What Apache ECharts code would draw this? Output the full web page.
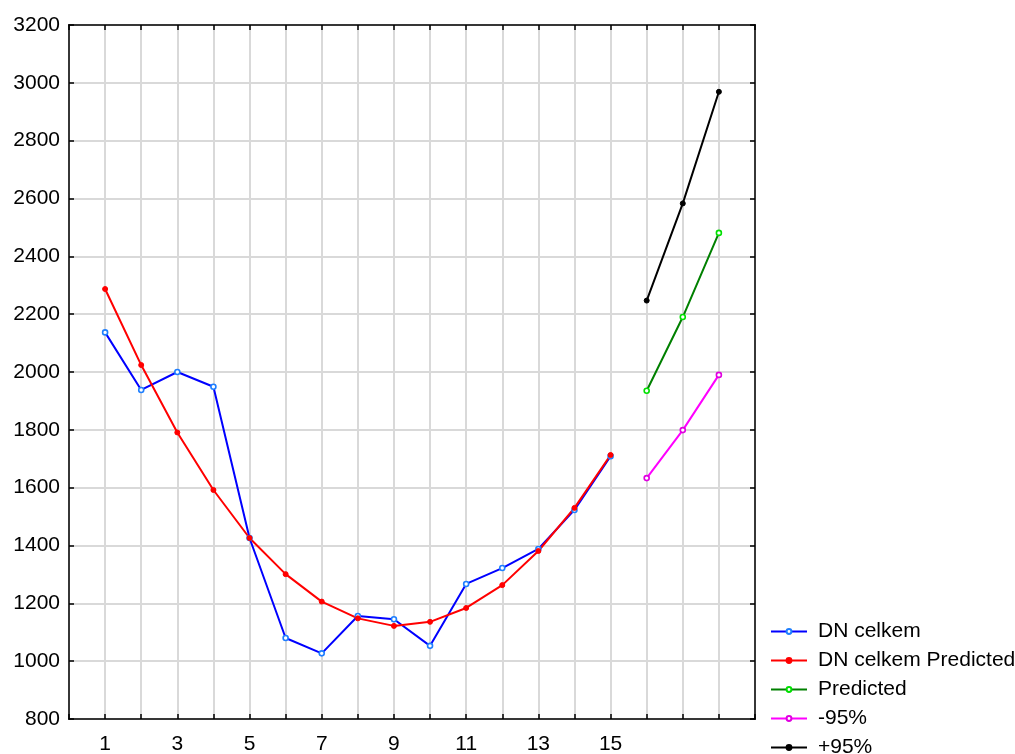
<!DOCTYPE html>
<html>
<head>
<meta charset="utf-8">
<script src="https://cdn.jsdelivr.net/npm/echarts@6/dist/echarts.min.js"></script>
<style>
  html, body { margin: 0; padding: 0; background: #fff; }
  #chart { width: 1015px; height: 754px; }
</style>
</head>
<body>
<div id="chart"></div>
<script>
// Observed periods and forecast horizon
const periods = [1, 2, 3, 4, 5, 6, 7, 8, 9, 10, 11, 12, 13, 14, 15];
const forecastPeriods = [16, 17, 18];

// Observed series and fitted values
const dnCelkem = [2137, 1938, 2000, 1949, 1426, 1080, 1027, 1156, 1145, 1053, 1267, 1322, 1388, 1523, 1709];
const dnCelkemPredicted = [2287, 2024, 1791, 1592, 1426, 1301, 1206, 1148, 1122, 1136, 1184, 1263, 1381, 1530, 1713];

// Forecast with 95% bounds
const predicted = [1935, 2190, 2481];
const lower95 = [1633, 1799, 1990];
const upper95 = [2247, 2583, 2969];

// Tick labels on the period axis
const xTickLabels = ['1', '3', '5', '7', '9', '11', '13', '15'];

const seriesNames = ['DN celkem', 'DN celkem Predicted', 'Predicted', '-95%', '+95%'];

const pairs = (xs, ys) => xs.map((x, i) => [x, ys[i]]);

const font = 'Liberation Sans, Arial, sans-serif';

function lineSeries(name, xs, ys, lineColor, dotColor, hollow) {
  return {
    name: name,
    type: 'line',
    data: pairs(xs, ys),
    symbol: 'circle',
    symbolSize: 5,
    showSymbol: true,
    lineStyle: { color: lineColor, width: 2 },
    itemStyle: hollow
      ? { color: '#ffffff', borderColor: dotColor, borderWidth: 1.6 }
      : { color: dotColor, borderColor: dotColor, borderWidth: 1 },
    emphasis: { disabled: true },
    animation: false,
    z: 3
  };
}

const chart = echarts.init(document.getElementById('chart'), null, { renderer: 'canvas' });

chart.setOption({
  backgroundColor: '#ffffff',
  animation: false,
  grid: {
    left: 69, right: 260, top: 25, bottom: 35,
    outerBoundsMode: 'none',
    containLabel: false,
    show: true, borderColor: '#000', borderWidth: 1.5, backgroundColor: 'transparent'
  },
  legend: {
    orient: 'vertical',
    left: 765,
    top: 616,
    height: 200,
    itemWidth: 36,
    itemHeight: 6,
    itemGap: 8,
    data: seriesNames,
    textStyle: { fontFamily: font, fontSize: 21, color: '#000', padding: [0, 0, 0, 6] },
    inactiveColor: '#000'
  },
  xAxis: [
    {
      type: 'value', position: 'bottom',
      min: 0, max: 19, interval: 1,
      axisLine: { show: true, onZero: false, lineStyle: { color: '#000', width: 1.5 } },
      axisTick: { show: true, inside: true, length: 5, lineStyle: { color: '#000', width: 1.5 } },
      axisLabel: {
        show: true, margin: 15,
        fontFamily: font, fontSize: 21, color: '#000',
        formatter: v => (xTickLabels.indexOf(String(v)) >= 0 ? String(v) : '')
      },
      splitLine: { show: true, lineStyle: { color: '#d9d9d9', width: 2 } }
    },
    {
      type: 'value', position: 'top',
      min: 0, max: 19, interval: 1,
      axisLine: { show: true, onZero: false, lineStyle: { color: '#000', width: 1.5 } },
      axisTick: { show: true, inside: true, length: 5, lineStyle: { color: '#000', width: 1.5 } },
      axisLabel: { show: false },
      splitLine: { show: false }
    }
  ],
  yAxis: [
    {
      type: 'value', position: 'left',
      min: 800, max: 3200, interval: 200,
      axisLine: { show: true, onZero: false, lineStyle: { color: '#000', width: 1.5 } },
      axisTick: { show: true, inside: true, length: 5, lineStyle: { color: '#000', width: 1.5 } },
      axisLabel: { show: true, margin: 9, fontFamily: font, fontSize: 21, color: '#000', formatter: v => String(v) },
      splitLine: { show: true, lineStyle: { color: '#d9d9d9', width: 2 } }
    },
    {
      type: 'value', position: 'right',
      min: 800, max: 3200, interval: 200,
      axisLine: { show: true, onZero: false, lineStyle: { color: '#000', width: 1.5 } },
      axisTick: { show: true, inside: true, length: 5, lineStyle: { color: '#000', width: 1.5 } },
      axisLabel: { show: false },
      splitLine: { show: false }
    }
  ],
  series: [
    lineSeries('DN celkem', periods, dnCelkem, '#0000ff', '#1e7fff', true),
    lineSeries('DN celkem Predicted', periods, dnCelkemPredicted, '#ff0000', '#ff0000', false),
    lineSeries('Predicted', forecastPeriods, predicted, '#008000', '#00e000', true),
    lineSeries('-95%', forecastPeriods, lower95, '#ff00ff', '#e000e0', true),
    lineSeries('+95%', forecastPeriods, upper95, '#000000', '#000000', false)
  ]
});
</script>
</body>
</html>
